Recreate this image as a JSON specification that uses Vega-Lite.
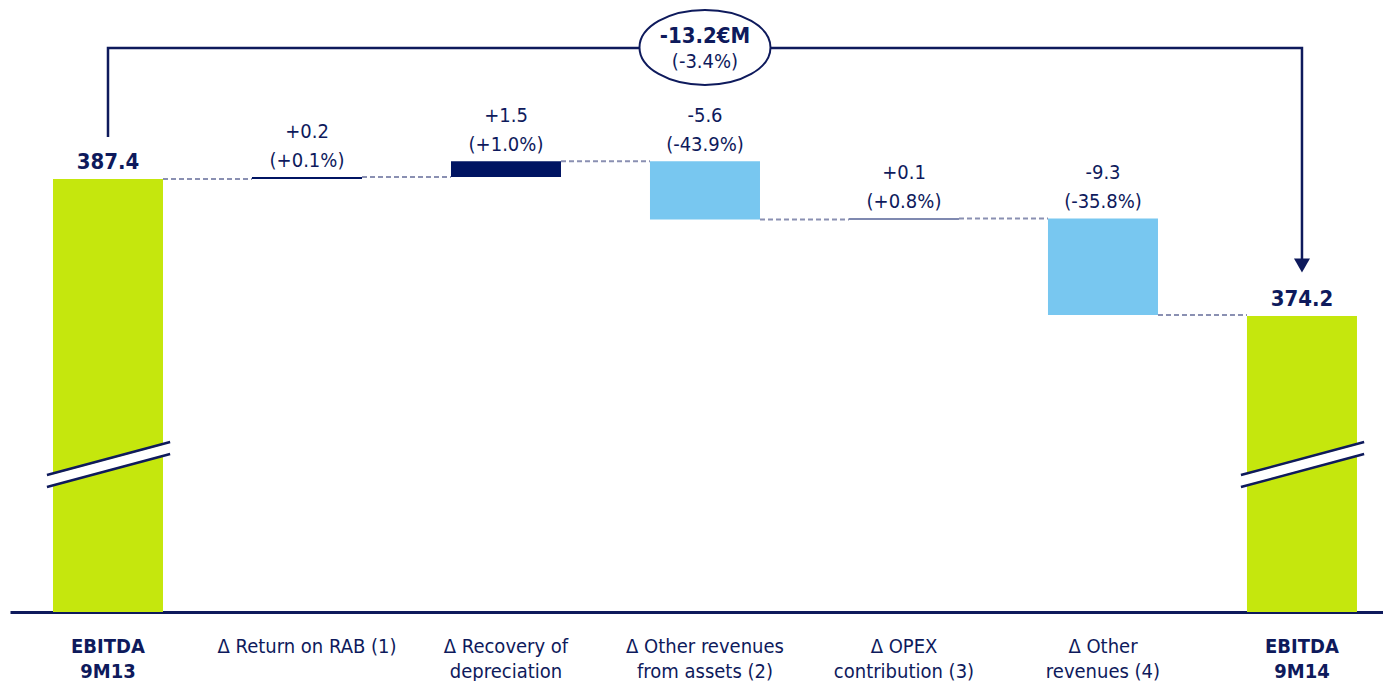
{
  "$schema": "https://vega.github.io/schema/vega-lite/v6.json",
  "autosize": "none",
  "width": 1373,
  "height": 612,
  "padding": {"left": 10, "top": 0, "right": 0, "bottom": 69},
  "background": "white",
  "config": {
    "view": {"stroke": null},
    "font": "DejaVu Sans Condensed, Liberation Sans, sans-serif",
    "text": {"font": "DejaVu Sans Condensed, Liberation Sans, sans-serif"}
  },
  "datasets": {
    "bars": [
      {"cat": "EBITDA|9M13", "start": 0, "end": 387.4, "top": 387.4, "kind": "total", "label": "387.4"},
      {"cat": "Δ Return on RAB (1)", "start": 387.4, "end": 387.6, "top": 387.6, "kind": "pos", "label": "+0.2\n(+0.1%)"},
      {"cat": "Δ Recovery of|depreciation", "start": 387.6, "end": 389.1, "top": 389.1, "kind": "pos", "label": "+1.5\n(+1.0%)"},
      {"cat": "Δ Other revenues|from assets (2)", "start": 389.1, "end": 383.5, "top": 389.1, "kind": "neg", "label": "-5.6\n(-43.9%)"},
      {"cat": "Δ OPEX|contribution (3)", "start": 383.5, "end": 383.6, "top": 383.6, "kind": "pos", "label": "+0.1\n(+0.8%)"},
      {"cat": "Δ Other|revenues (4)", "start": 383.6, "end": 374.3, "top": 383.6, "kind": "neg", "label": "-9.3\n(-35.8%)"},
      {"cat": "EBITDA|9M14", "start": 0, "end": 374.2, "top": 374.2, "kind": "total", "label": "374.2"}
    ],
    "connectors": [
      {"cat": "EBITDA|9M13", "to": "Δ Return on RAB (1)", "level": 387.4},
      {"cat": "Δ Return on RAB (1)", "to": "Δ Recovery of|depreciation", "level": 387.6},
      {"cat": "Δ Recovery of|depreciation", "to": "Δ Other revenues|from assets (2)", "level": 389.1},
      {"cat": "Δ Other revenues|from assets (2)", "to": "Δ OPEX|contribution (3)", "level": 383.5},
      {"cat": "Δ OPEX|contribution (3)", "to": "Δ Other|revenues (4)", "level": 383.6},
      {"cat": "Δ Other|revenues (4)", "to": "EBITDA|9M14", "level": 374.3}
    ],
    "breaks": [
      {"cat": "EBITDA|9M13", "left": 358.31, "right": 361.49},
      {"cat": "EBITDA|9M14", "left": 358.31, "right": 361.49}
    ],
    "bracket": [
      {"cat": "EBITDA|9M13", "y": 391.45, "ord": 1},
      {"cat": "EBITDA|9M13", "y": 400.02, "ord": 2},
      {"cat": "EBITDA|9M14", "y": 400.02, "ord": 3},
      {"cat": "EBITDA|9M14", "y": 379.3, "ord": 4}
    ],
    "arrow": [
      {"cat": "EBITDA|9M14", "y": 379.07}
    ],
    "total": [
      {"cat": "Δ Other revenues|from assets (2)", "y": 400.07, "t1": "-13.2€M", "t2": "(-3.4%)"}
    ]
  },
  "layer": [
    {
      "data": {"name": "bars"},
      "mark": {"type": "bar", "clip": true},
      "encoding": {
        "x": {
          "field": "cat", "type": "nominal", "title": null,
          "scale": {"type": "band", "domain": ["EBITDA|9M13", "Δ Return on RAB (1)", "Δ Recovery of|depreciation", "Δ Other revenues|from assets (2)", "Δ OPEX|contribution (3)", "Δ Other|revenues (4)", "EBITDA|9M14"], "paddingInner": 0.4472, "paddingOuter": 0.1734, "align": 0.623},
          "axis": {
            "title": null, "domainColor": "#0e1a5c", "domainWidth": 3, "ticks": false, "tickSize": 0,
            "labelAngle": 0, "labelExpr": "split(datum.label, '|')", "labelFontSize": 20,
            "labelColor": "#0e1a5c", "labelFont": "DejaVu Sans Condensed, Liberation Sans, sans-serif",
            "labelFontWeight": {"condition": {"test": "indexof(datum.value, 'EBITDA') === 0", "value": "bold"}, "value": "normal"},
            "labelPadding": 24, "labelLineHeight": 25, "labelBaseline": "top", "labelLimit": 0,
            "labelOverlap": false, "labelBound": false, "grid": false
          }
        },
        "y": {"field": "start", "type": "quantitative", "axis": null, "scale": {"domain": [345.7, 404.64], "zero": false, "nice": false}},
        "y2": {"field": "end"},
        "color": {"field": "kind", "type": "nominal", "legend": null, "scale": {"domain": ["total", "pos", "neg"], "range": ["#c5e70d", "#001462", "#78c7f0"]}}
      }
    },
    {
      "data": {"name": "connectors"},
      "mark": {"type": "rule", "strokeDash": [5, 3], "color": "#8a90b2", "strokeWidth": 2},
      "encoding": {
        "x": {"field": "cat", "type": "nominal", "bandPosition": 1},
        "x2": {"field": "to", "bandPosition": 0},
        "y": {"field": "level", "type": "quantitative", "axis": null}
      }
    },
    {
      "data": {"name": "breaks"},
      "mark": {"type": "rule", "color": "white", "strokeWidth": 10},
      "encoding": {
        "x": {"field": "cat", "type": "nominal", "bandPosition": -0.055},
        "x2": {"field": "cat", "bandPosition": 1.065},
        "y": {"field": "left", "type": "quantitative", "axis": null},
        "y2": {"field": "right"}
      }
    },
    {
      "data": {"name": "breaks"},
      "mark": {"type": "rule", "color": "#0e1a5c", "strokeWidth": 2.5, "yOffset": -6, "y2Offset": -6},
      "encoding": {
        "x": {"field": "cat", "type": "nominal", "bandPosition": -0.055},
        "x2": {"field": "cat", "bandPosition": 1.065},
        "y": {"field": "left", "type": "quantitative", "axis": null},
        "y2": {"field": "right"}
      }
    },
    {
      "data": {"name": "breaks"},
      "mark": {"type": "rule", "color": "#0e1a5c", "strokeWidth": 2.5, "yOffset": 6, "y2Offset": 6},
      "encoding": {
        "x": {"field": "cat", "type": "nominal", "bandPosition": -0.055},
        "x2": {"field": "cat", "bandPosition": 1.065},
        "y": {"field": "left", "type": "quantitative", "axis": null},
        "y2": {"field": "right"}
      }
    },
    {
      "data": {"name": "bracket"},
      "mark": {"type": "line", "color": "#0e1a5c", "strokeWidth": 2.5},
      "encoding": {
        "x": {"field": "cat", "type": "nominal"},
        "y": {"field": "y", "type": "quantitative", "axis": null},
        "order": {"field": "ord", "type": "quantitative"}
      }
    },
    {
      "data": {"name": "arrow"},
      "mark": {"type": "point", "shape": "triangle-down", "size": 256, "filled": true, "color": "#0e1a5c", "opacity": 1},
      "encoding": {
        "x": {"field": "cat", "type": "nominal"},
        "y": {"field": "y", "type": "quantitative", "axis": null}
      }
    },
    {
      "data": {"name": "total"},
      "mark": {"type": "point", "shape": "M-1,0A1,0.573,0,1,1,1,0A1,0.573,0,1,1,-1,0Z", "size": 17161, "filled": true, "fill": "white", "stroke": "#0e1a5c", "strokeWidth": 2, "opacity": 1, "fillOpacity": 1, "strokeOpacity": 1},
      "encoding": {
        "x": {"field": "cat", "type": "nominal"},
        "y": {"field": "y", "type": "quantitative", "axis": null}
      }
    },
    {
      "data": {"name": "total"},
      "mark": {"type": "text", "fontSize": 22, "fontWeight": "bold", "color": "#0e1a5c", "baseline": "alphabetic", "dy": -4.5},
      "encoding": {
        "x": {"field": "cat", "type": "nominal"},
        "y": {"field": "y", "type": "quantitative", "axis": null},
        "text": {"field": "t1"}
      }
    },
    {
      "data": {"name": "total"},
      "mark": {"type": "text", "fontSize": 20, "color": "#0e1a5c", "baseline": "alphabetic", "dy": 20.5},
      "encoding": {
        "x": {"field": "cat", "type": "nominal"},
        "y": {"field": "y", "type": "quantitative", "axis": null},
        "text": {"field": "t2"}
      }
    },
    {
      "data": {"name": "bars"},
      "transform": [{"filter": "datum.kind === 'total'"}],
      "mark": {"type": "text", "fontSize": 22, "fontWeight": "bold", "color": "#0e1a5c", "baseline": "bottom", "dy": -5},
      "encoding": {
        "x": {"field": "cat", "type": "nominal"},
        "y": {"field": "top", "type": "quantitative", "axis": null},
        "text": {"field": "label"}
      }
    },
    {
      "data": {"name": "bars"},
      "transform": [{"filter": "datum.kind !== 'total'"}],
      "mark": {"type": "text", "fontSize": 20, "color": "#0e1a5c", "baseline": "bottom", "dy": -35, "lineBreak": "\n", "lineHeight": 29},
      "encoding": {
        "x": {"field": "cat", "type": "nominal"},
        "y": {"field": "top", "type": "quantitative", "axis": null},
        "text": {"field": "label"}
      }
    }
  ]
}
